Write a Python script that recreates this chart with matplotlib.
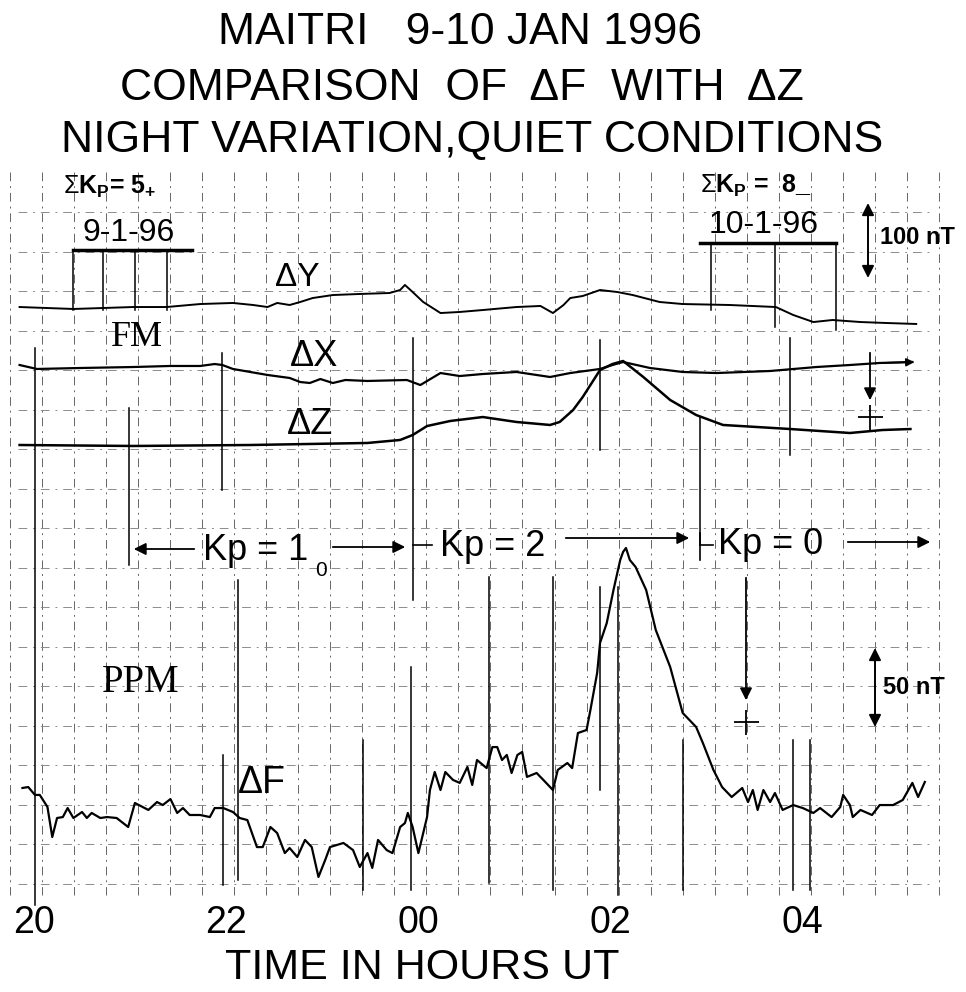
import numpy as np
import matplotlib
matplotlib.use("Agg")
import matplotlib.pyplot as plt

plt.rcParams['font.family'] = ['Liberation Sans', 'DejaVu Sans']
plt.rcParams['mathtext.fontset'] = 'custom'
plt.rcParams['mathtext.rm'] = 'Liberation Sans'
plt.rcParams['mathtext.bf'] = 'Liberation Sans:bold'

# time in hours UT counted on from 20 UT, 9 Jan (24 = 00 UT, 10 Jan)
dy_t = [19.85, 20.41, 21.03, 21.38, 21.73, 22.07, 22.28, 22.43, 22.53, 22.66, 22.77, 22.90,
        23.11, 23.39, 23.70, 23.81, 23.86, 23.94, 24.05, 24.23, 24.43, 24.67, 25.02, 25.27,
        25.40, 25.51, 25.58, 25.71, 25.89, 26.07, 26.23, 26.51, 26.75, 27.24, 27.72, 27.90,
        28.11, 28.31, 28.60, 28.87, 29.18]
dy_nt = [1.3, -1.3, 1.3, 1.3, 5.3, 6.7, 4.0, 1.3, 6.7, 4.0, 8.0, 13.3,
         17.3, 18.7, 20.0, 24.0, 30.7, 21.3, 8.0, -6.7, -5.3, -2.7, 1.3, 2.7,
         -6.7, 4.0, 13.3, 16.0, 24.0, 21.3, 17.3, 8.0, 5.3, 4.0, 1.3, -9.3,
         -18.7, -16.0, -18.7, -20.0, -21.3]

dx_t = [19.85, 20.03, 20.48, 21.03, 21.42, 21.73, 21.88, 21.96, 22.07, 22.25, 22.43, 22.66,
        22.77, 22.87, 22.98, 23.11, 23.24, 23.47, 23.88, 24.02, 24.23, 24.43, 24.67, 25.02,
        25.37, 25.58, 25.89, 26.02, 26.13, 26.41, 26.75, 27.10, 27.66, 28.14, 28.49, 28.80,
        29.14]
dx_nt = [0.0, -5.3, -4.0, -2.7, -1.3, -1.3, 1.3, 0.0, -5.3, -9.3, -13.3, -17.3,
         -22.7, -24.0, -18.7, -24.0, -20.0, -21.3, -20.0, -26.7, -10.7, -14.7, -12.0, -9.3,
         -16.0, -10.7, -5.3, 0.0, 4.0, -4.0, -9.3, -10.7, -8.0, -2.7, 0.0, 2.7,
         4.0]

dz_t = [19.85, 21.03, 22.25, 23.47, 23.81, 23.94, 24.09, 24.33, 24.67, 25.02, 25.37, 25.47,
        25.61, 25.71, 25.89, 26.02, 26.13, 26.34, 26.62, 26.89, 27.17, 27.87, 28.49, 28.83,
        29.12]
dz_nt = [0.0, -1.3, 0.0, 2.7, 6.7, 13.3, 25.3, 32.0, 37.3, 30.7, 26.7, 30.7,
         46.7, 64.0, 100.0, 108.0, 112.0, 90.7, 60.0, 40.0, 26.7, 21.3, 16.0, 20.0,
         21.3]

df_t = [19.88, 19.94, 20.01, 20.06, 20.14, 20.19, 20.24, 20.30, 20.35, 20.41, 20.50, 20.55,
        20.60, 20.69, 20.76, 20.86, 20.98, 21.05, 21.13, 21.19, 21.28, 21.34, 21.42, 21.49,
        21.55, 21.62, 21.73, 21.83, 21.88, 21.97, 22.07, 22.14, 22.22, 22.32, 22.38, 22.46,
        22.53, 22.61, 22.66, 22.74, 22.82, 22.89, 22.96, 23.03, 23.08, 23.22, 23.32, 23.39,
        23.47, 23.52, 23.58, 23.67, 23.73, 23.81, 23.86, 23.89, 23.94, 24.00, 24.09, 24.12,
        24.17, 24.23, 24.28, 24.36, 24.43, 24.51, 24.56, 24.61, 24.71, 24.77, 24.82, 24.87,
        24.92, 24.97, 25.03, 25.08, 25.13, 25.23, 25.30, 25.40, 25.45, 25.55, 25.60, 25.66,
        25.75, 25.79, 25.86, 25.89, 25.96, 26.03, 26.10, 26.13, 26.16, 26.20, 26.26, 26.37,
        26.47, 26.62, 26.75, 26.89, 26.96, 27.07, 27.16, 27.26, 27.37, 27.43, 27.48, 27.53,
        27.59, 27.66, 27.71, 27.79, 27.90, 28.00, 28.11, 28.18, 28.30, 28.39, 28.42, 28.49,
        28.52, 28.60, 28.72, 28.80, 28.94, 29.04, 29.14, 29.20, 29.27]
df_nt = [17.1, 17.7, 12.7, 12.7, 5.1, -13.9, -1.9, -1.3, 4.4, -1.9, 1.9, -1.9,
         1.3, -1.9, -1.3, -1.9, -7.6, 7.6, 5.1, 3.2, 8.2, 6.3, 10.1, 1.3,
         4.4, 0.0, 0.0, -1.3, 4.4, 4.4, 1.9, -1.9, -3.2, -20.3, -20.3, -7.6,
         -11.4, -24.1, -20.9, -26.6, -15.8, -20.3, -39.2, -28.5, -20.3, -17.7, -22.2, -32.9,
         -24.1, -33.5, -15.8, -22.2, -24.1, -7.6, -5.1, 1.3, -7.6, -24.1, -1.3, 15.8,
         27.2, 15.8, 27.2, 22.2, 20.3, 30.4, 19.0, 34.8, 29.7, 43.0, 43.0, 34.8,
         38.0, 26.6, 38.0, 39.9, 24.1, 26.6, 22.2, 15.8, 28.5, 32.9, 29.7, 51.9,
         53.8, 66.5, 89.9, 108.9, 121.5, 142.4, 161.4, 166.5, 169.0, 161.4, 157.0, 142.4,
         117.1, 93.7, 64.6, 55.7, 45.6, 28.5, 17.7, 11.4, 17.1, 8.2, 15.8, 3.2,
         15.8, 8.2, 13.9, 3.2, 6.3, 4.4, 1.3, 4.4, -1.3, 5.1, 12.7, 6.3,
         -1.3, 3.2, 0.0, 6.3, 6.3, 9.5, 20.3, 11.4, 20.9]

tick_hours = [20, 22, 24, 26, 28]
tick_labels = ['20', '22', '00', '02', '04']

# layout: chart in pixel rows, 96.1 px per hour, 20 UT at x=34
PX_H, X20 = 96.1, 34
FM_SCALE, PPM_SCALE = 0.75, 1.58   # px per nT (100 nT / 50 nT bars)

fig = plt.figure(figsize=(9.66, 9.92), dpi=100)
lay = fig.add_axes([0, 0, 1, 1])
lay.set_xlim(0, 966); lay.set_ylim(992, 0); lay.axis('off')
ax = fig.add_axes([0, 0, 1, 1])
ax.set_xlim(20 - X20 / PX_H, 20 + (966 - X20) / PX_H); ax.set_ylim(992, 0)
ax.axis('off'); ax.patch.set_alpha(0)

# chart paper grid
for gx in np.arange(10, 945, 32.03):
    lay.plot([gx, gx], [172, 895], color='0.4', lw=0.7, ls=(0, (9, 5, 2, 5)), zorder=1)
for gy in np.arange(212, 895, 39.5):
    lay.plot([18, 930], [gy, gy], color='0.55', lw=0.7, ls=(0, (9, 6, 2, 6)), zorder=1)

# solid marker lines
for x, y0, y1 in [(35, 348, 905), (129, 408, 565), (222, 353, 490), (223, 755, 885),
                  (238, 580, 880), (413, 338, 600), (411, 667, 890), (363, 740, 890),
                  (489, 577, 883), (553, 577, 890), (600, 340, 450), (600, 587, 790),
                  (618, 587, 895), (700, 417, 545), (790, 338, 455), (683, 740, 890),
                  (793, 740, 890), (810, 740, 890),
                  (73, 250, 310), (103, 250, 310), (135, 250, 310), (167, 250, 310),
                  (711, 243, 310), (775, 243, 327), (836, 243, 330)]:
    lay.plot([x, x], [y0, y1], color='black', lw=1.1, zorder=2)

# traces
ax.plot(dy_t, 308 - np.array(dy_nt) * FM_SCALE, color='black', lw=1.4, zorder=4)
ax.plot(dx_t, 365 - np.array(dx_nt) * FM_SCALE, color='black', lw=1.6, zorder=4)
ax.plot(dz_t, 445 - np.array(dz_nt) * FM_SCALE, color='black', lw=1.8, zorder=4)
ax.plot(df_t, 815 - np.array(df_nt) * PPM_SCALE, color='black', lw=1.6, zorder=4)
ax.annotate('', xy=(dx_t[-1] + 0.05, 365 - dx_nt[-1] * FM_SCALE),
            xytext=(dx_t[-2], 365 - dx_nt[-2] * FM_SCALE),
            arrowprops=dict(arrowstyle='-|>', color='black', lw=1.2, mutation_scale=12))

# titles
kw = dict(ha='center', va='center', color='black')
lay.text(460, 32, 'MAITRI   9-10 JAN 1996', fontsize=32, **kw)
lay.text(462, 89, 'COMPARISON  OF  ΔF  WITH  ΔZ', fontsize=32, **kw)
lay.text(472, 140, 'NIGHT VARIATION,QUIET CONDITIONS', fontsize=32, **kw)
for h, lab in zip(tick_hours, tick_labels):
    ax.text(h, 923, lab, fontsize=27, **kw)
lay.text(422, 968, 'TIME IN HOURS UT', fontsize=31, **kw)

# trace labels
lay.text(297, 278, 'ΔY', fontsize=24, **kw)
lay.text(314, 357, 'ΔX', fontsize=26, **kw)
lay.text(310, 424, 'ΔZ', fontsize=26, **kw)
lay.text(262, 783, 'ΔF', fontsize=27, **kw)
lay.text(137, 337, 'FM', fontsize=26, family='Liberation Serif', **kw)
lay.text(141, 683, 'PPM', fontsize=28, family='Liberation Serif', **kw)

# dates and Kp sums
lay.text(63, 187, r'$\Sigma\mathbf{K_P}$= 5$_\mathbf{+}$', fontsize=18, fontweight='bold',
         ha='left', va='center')
lay.text(700, 186, r'$\Sigma\mathbf{K_P}$ =  8_', fontsize=18, fontweight='bold',
         ha='left', va='center')
lay.text(129, 233, '9-1-96', fontsize=23, **kw)
lay.text(764, 225, '10-1-96', fontsize=23, **kw)
lay.plot([73, 192], [250, 250], color='black', lw=2.5)
lay.plot([700, 836], [243, 243], color='black', lw=2.5)

# Kp intervals
arrow = dict(arrowstyle='-|>', color='black', lw=1.3, mutation_scale=18)
lay.text(203, 550, 'Kp = 1', fontsize=26, ha='left', va='center')
lay.text(321, 570, '0', fontsize=15, ha='center', va='center')
lay.annotate('', xy=(131, 549), xytext=(197, 549), arrowprops=arrow)
lay.annotate('', xy=(408, 547), xytext=(330, 547), arrowprops=arrow)
lay.plot([413, 432], [545, 545], color='black', lw=1.2)
lay.text(440, 547, 'Kp = 2', fontsize=26, ha='left', va='center')
lay.annotate('', xy=(692, 538), xytext=(563, 538), arrowprops=arrow)
lay.plot([700, 700], [533, 560], color='black', lw=1.2)
lay.plot([700, 713], [545, 545], color='black', lw=1.2)
lay.text(718, 545, 'Kp = 0', fontsize=26, ha='left', va='center')
lay.annotate('', xy=(933, 542), xytext=(845, 542), arrowprops=arrow)

# down arrows with reference crosses
lay.annotate('', xy=(870, 403), xytext=(870, 350), arrowprops=arrow)
lay.plot([870], [417], marker='+', ms=18, mew=1.3, color='black')
lay.annotate('', xy=(746, 703), xytext=(746, 575), arrowprops=arrow)
lay.plot([746], [722], marker='+', ms=18, mew=1.3, color='black')

# scale bars
bar = dict(arrowstyle='<|-|>', color='black', lw=1.4, mutation_scale=18, shrinkA=0, shrinkB=0)
lay.annotate('', xy=(868, 203), xytext=(868, 278), arrowprops=bar)
lay.text(880, 238, '100 nT', fontsize=17, fontweight='bold', ha='left', va='center')
lay.annotate('', xy=(875, 648), xytext=(875, 727), arrowprops=bar)
lay.text(883, 687, '50 nT', fontsize=17, fontweight='bold', ha='left', va='center')

fig.savefig('out.png', dpi=100)
